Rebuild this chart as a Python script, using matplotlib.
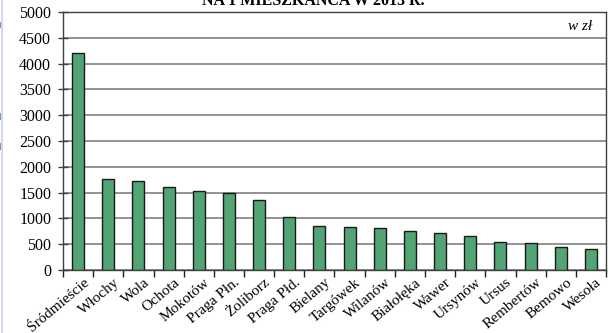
import matplotlib
matplotlib.use("Agg")
import matplotlib.pyplot as plt
from matplotlib.patches import Rectangle
from matplotlib.lines import Line2D
import matplotlib.transforms as mtransforms
import numpy as np

districts = ["Śródmieście", "Włochy", "Wola", "Ochota", "Mokotów", "Praga Płn.",
             "Żoliborz", "Praga Płd.", "Bielany", "Targówek", "Wilanów", "Białołęka",
             "Wawer", "Ursynów", "Ursus", "Rembertów", "Bemowo", "Wesoła"]
values = [4200, 1765, 1730, 1610, 1538, 1492, 1358, 1025, 850, 832, 822, 758,
          712, 655, 538, 525, 440, 408]
yticks = [0, 500, 1000, 1500, 2000, 2500, 3000, 3500, 4000, 4500, 5000]

plt.rcParams['font.family'] = ['Liberation Serif', 'DejaVu Serif']

W, H = 609, 333
fig = plt.figure(figsize=(W / 100, H / 100), dpi=100)
fig.patch.set_facecolor('white')

ax = fig.add_axes([63 / W, (H - 270) / H, (606 - 63) / W, (270 - 12) / H])
n = len(districts)
x = np.arange(n)
ax.bar(x, values, width=0.40, color='#52A474', edgecolor='#1a1a1a', linewidth=1.0, zorder=3)

ax.set_xlim(-0.5, n - 0.5)
ax.set_ylim(0, 5000)
ax.set_yticks(yticks)
ax.set_yticklabels([str(v) for v in yticks], fontsize=11.5)
ax.yaxis.grid(True, color='#808080', linewidth=1.2, zorder=0)
ax.set_axisbelow(True)

ax.set_xticks([])
ax.set_xticks(np.arange(n + 1) - 0.5, minor=True)
ax.tick_params(axis='x', which='minor', length=5, width=1.0, color='#202020', direction='out')
ax.tick_params(axis='y', length=7, width=1.0, direction='inout', color='#404040', pad=5)

base = mtransforms.blended_transform_factory(ax.transData, ax.transAxes)
offset = mtransforms.ScaledTranslation(5 / 100, -6 / 100, fig.dpi_scale_trans)
for xi, name in zip(x, districts):
    ax.text(xi, 0, name, transform=base + offset, rotation=40, ha='right', va='top',
            rotation_mode='anchor', fontsize=11, clip_on=False)

for s in ax.spines.values():
    s.set_color('#404040')
    s.set_linewidth(1.0)

ax.text(0.974, 0.945, "w zł", transform=ax.transAxes, ha='right', va='center',
        fontsize=11, style='italic')

# cut-off title at the top
fig.text(313 / W, 1 - 5 / H, "NA 1 MIESZKAŃCA W 2013 R.", ha='center', va='baseline',
         fontsize=11.5, fontweight='bold')

# left-edge artifacts
fig.add_artist(Line2D([1.5 / W, 1.5 / W], [0, 1], transform=fig.transFigure,
                      color='#d6d6ee', linewidth=1.5))
for (y0, y1) in [(22, 28), (113, 120), (143, 150)]:
    fig.add_artist(Rectangle((0, 1 - y1 / H), 3 / W, (y1 - y0) / H,
                             transform=fig.transFigure, color='#6f93d3', linewidth=0))

fig.savefig("out.png", dpi=100)
